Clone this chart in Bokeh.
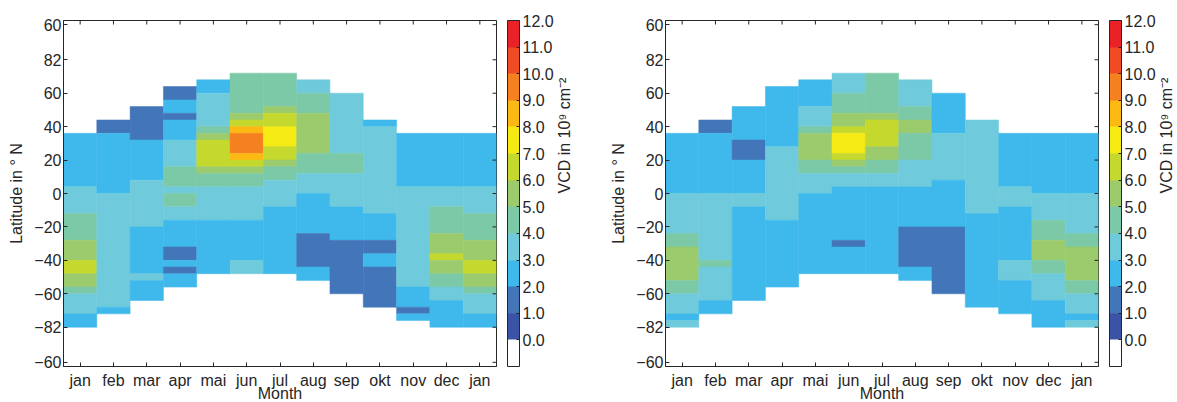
from bokeh.plotting import figure
from bokeh.models import (ColumnDataSource, LinearColorMapper, ColorBar, FixedTicker,
                          LinearAxis, Range1d, PrintfTickFormatter)
from bokeh.layouts import row
from bokeh.embed import file_html
from bokeh.resources import INLINE
import math

FONT = "Liberation Sans"
INK = "#262626"
FS = "16px"

# ---------------- data ----------------
months = ["jan", "feb", "mar", "apr", "mai", "jun", "jul", "aug", "sep", "okt", "nov", "dec", "jan"]
lat_ticks = [-101, -80, -60, -40, -20, 0, 20, 40, 60, 80, 101]
lat_tick_labels = ["\u221260", "\u221282", "\u221260", "\u221240", "\u221220", "0", "20", "40", "60", "82", "60"]
cbar_ticks = list(range(13))
cbar_colors = ["#ffffff", "#3a53a4", "#4375b9", "#3fb8eb", "#6fcbdc", "#7bc9a7",
               "#9bcb6d", "#c4d82e", "#f5ea14", "#fdb913", "#f58020", "#ef4b24", "#e92228"]

# per month: (lat top, lat bottom, VCD in 1e9 cm^-2)
left_jan = [(36, 4, 2.5), (4, -12, 3.5), (-12, -28, 4.5), (-28, -40, 5.5), (-40, -48, 6.5),
            (-48, -56, 5.5), (-56, -60, 4.5), (-60, -72, 3.5), (-72, -80, 2.5)]
left_columns = [
    left_jan,
    [(44, 36, 1.5), (36, 0, 2.5), (0, -68, 3.5), (-68, -72, 2.5)],
    [(52, 32, 1.5), (32, 8, 2.5), (8, -20, 3.5), (-20, -48, 2.5), (-48, -52, 3.5), (-52, -64, 2.5)],
    [(64, 56, 1.5), (56, 48, 2.5), (48, 44, 1.5), (44, 32, 2.5), (32, 16, 3.5), (16, 4, 4.5),
     (4, 0, 3.5), (0, -8, 4.5), (-8, -16, 3.5), (-16, -32, 2.5), (-32, -40, 1.5), (-40, -44, 2.5),
     (-44, -48, 1.5), (-48, -56, 2.5)],
    [(68, 60, 2.5), (60, 40, 3.5), (40, 36, 4.5), (36, 32, 5.5), (32, 16, 6.5), (16, 12, 5.5),
     (12, 4, 4.5), (4, -16, 3.5), (-16, -48, 2.5)],
    [(72, 48, 4.5), (48, 44, 5.5), (44, 40, 6.5), (40, 36, 8.5), (36, 24, 9.5), (24, 20, 8.5),
     (20, 16, 6.5), (16, 12, 5.5), (12, 4, 4.5), (4, -16, 3.5), (-16, -40, 2.5), (-40, -48, 3.5)],
    [(72, 52, 4.5), (52, 48, 5.5), (48, 40, 6.5), (40, 28, 7.5), (28, 20, 6.5), (20, 16, 5.5),
     (16, 8, 4.5), (8, -8, 3.5), (-8, -48, 2.5)],
    [(68, 60, 3.5), (60, 48, 4.5), (48, 24, 5.5), (24, 12, 4.5), (12, 0, 3.5), (0, -24, 2.5),
     (-24, -44, 1.5), (-44, -52, 2.5)],
    [(60, 24, 3.5), (24, 12, 4.5), (12, -8, 3.5), (-8, -28, 2.5), (-28, -60, 1.5)],
    [(44, 40, 2.5), (40, -12, 3.5), (-12, -28, 2.5), (-28, -36, 1.5), (-36, -44, 2.5), (-44, -68, 1.5)],
    [(36, 4, 2.5), (4, -56, 3.5), (-56, -68, 2.5), (-68, -72, 1.5), (-72, -76, 2.5)],
    [(36, 4, 2.5), (4, -8, 3.5), (-8, -24, 4.5), (-24, -36, 5.5), (-36, -40, 6.5), (-40, -48, 5.5),
     (-48, -56, 4.5), (-56, -64, 3.5), (-64, -80, 2.5)],
    left_jan,
]

right_jan = [(36, 0, 2.5), (0, -24, 3.5), (-24, -32, 4.5), (-32, -52, 5.5), (-52, -60, 4.5),
             (-60, -72, 3.5), (-72, -76, 2.5), (-76, -80, 3.5)]
right_columns = [
    right_jan,
    [(44, 36, 1.5), (36, 0, 2.5), (0, -40, 3.5), (-40, -44, 4.5), (-44, -64, 3.5), (-64, -72, 2.5)],
    [(52, 32, 2.5), (32, 20, 1.5), (20, 0, 2.5), (0, -8, 3.5), (-8, -64, 2.5)],
    [(64, 28, 2.5), (28, -16, 3.5), (-16, -56, 2.5)],
    [(68, 52, 2.5), (52, 40, 3.5), (40, 36, 4.5), (36, 20, 5.5), (20, 12, 4.5), (12, 0, 3.5),
     (0, -48, 2.5)],
    [(72, 60, 3.5), (60, 48, 4.5), (48, 40, 5.5), (40, 36, 6.5), (36, 24, 7.5), (24, 20, 6.5),
     (20, 16, 5.5), (16, 12, 4.5), (12, 4, 3.5), (4, -28, 2.5), (-28, -32, 1.5), (-32, -48, 2.5)],
    [(72, 48, 4.5), (48, 44, 5.5), (44, 28, 6.5), (28, 20, 5.5), (20, 12, 4.5), (12, 4, 3.5),
     (4, -48, 2.5)],
    [(68, 52, 3.5), (52, 44, 4.5), (44, 36, 5.5), (36, 20, 4.5), (20, 4, 3.5), (4, -20, 2.5),
     (-20, -44, 1.5), (-44, -52, 2.5)],
    [(60, 36, 2.5), (36, 8, 3.5), (8, -20, 2.5), (-20, -60, 1.5)],
    [(44, -12, 3.5), (-12, -68, 2.5)],
    [(36, 4, 2.5), (4, -8, 3.5), (-8, -40, 2.5), (-40, -52, 3.5), (-52, -72, 2.5)],
    [(36, 0, 2.5), (0, -16, 3.5), (-16, -28, 4.5), (-28, -40, 5.5), (-40, -48, 4.5), (-48, -64, 3.5),
     (-64, -80, 2.5)],
    right_jan,
]

# ---------------- build ----------------
FRAME_W, FRAME_H = 433, 346
X0, X1 = -0.5, 12.5
Y0, Y1 = -103.5, 103.5
TICK_PX = 4

mapper = LinearColorMapper(palette=cbar_colors, low=-1, high=12)


def column_source(columns):
    d = dict(left=[], right=[], top=[], bottom=[], vcd=[])
    for m, runs in enumerate(columns):
        for hi, lo, v in runs:
            d["left"].append(m - 0.5)
            d["right"].append(m + 0.5)
            d["top"].append(hi)
            d["bottom"].append(lo)
            d["vcd"].append(v)
    return ColumnDataSource(d)


def style_axis(ax, ticks, labels):
    ax.ticker = FixedTicker(ticks=ticks)
    ax.axis_line_color = INK
    ax.axis_line_width = 1
    ax.major_tick_line_color = INK
    ax.major_tick_line_width = 1
    ax.major_tick_in = TICK_PX
    ax.major_tick_out = 0
    ax.minor_tick_line_color = None
    ax.axis_label_text_font = FONT
    ax.axis_label_text_font_size = FS
    ax.axis_label_text_font_style = "normal"
    ax.axis_label_text_color = INK
    ax.major_label_overrides = {t: s for t, s in zip(ticks, labels)}
    ax.major_label_text_font = FONT
    ax.major_label_text_font_size = FS
    ax.major_label_text_color = INK


def make_panel(columns, border_left, border_right):
    p = figure(frame_width=FRAME_W, frame_height=FRAME_H,
               x_range=Range1d(X0, X1), y_range=Range1d(Y0, Y1),
               output_backend="svg", toolbar_location=None,
               min_border_left=border_left, min_border_right=border_right,
               min_border_top=20, min_border_bottom=36,
               x_axis_label="Month", y_axis_label="Latitude in \u00b0 N")
    p.quad(left="left", right="right", top="top", bottom="bottom", source=column_source(columns),
           fill_color={"field": "vcd", "transform": mapper},
           line_color={"field": "vcd", "transform": mapper}, line_width=0.5)
    p.xgrid.visible = False
    p.ygrid.visible = False
    p.outline_line_color = INK
    p.outline_line_width = 1
    p.outline_line_alpha = 1
    p.background_fill_color = "white"
    p.border_fill_color = "white"

    month_ticks = list(range(len(months)))
    style_axis(p.xaxis[0], month_ticks, months)
    p.xaxis[0].major_label_standoff = 5
    p.xaxis[0].axis_label_standoff = -7
    style_axis(p.yaxis[0], lat_ticks, lat_tick_labels)
    p.yaxis[0].major_label_standoff = 2
    p.yaxis[0].axis_label_standoff = 6

    # inward ticks on the top and right frame edges (box style), at the axis tick positions
    dy = TICK_PX * (Y1 - Y0) / FRAME_H
    dx = TICK_PX * (X1 - X0) / FRAME_W
    p.segment(x0=month_ticks, x1=month_ticks, y0=[Y1] * len(month_ticks),
              y1=[Y1 - dy] * len(month_ticks), line_color=INK, line_width=1)
    p.segment(x0=[X1] * len(lat_ticks), x1=[X1 - dx] * len(lat_ticks), y0=lat_ticks, y1=lat_ticks,
              line_color=INK, line_width=1)

    cb = ColorBar(color_mapper=mapper, ticker=FixedTicker(ticks=cbar_ticks),
                  formatter=PrintfTickFormatter(format="%.1f"),
                  width=12, height=FRAME_H, margin=0, padding=0, label_standoff=3,
                  location=(11, 0),
                  major_label_text_font=FONT, major_label_text_font_size=FS,
                  major_label_text_color=INK,
                  major_tick_line_color=INK, major_tick_in=3, major_tick_out=0,
                  minor_tick_line_color=None,
                  bar_line_color=INK, bar_line_width=1,
                  border_line_color=None, background_fill_color=None)
    p.add_layout(cb, "right")

    p.extra_y_ranges = {"cbt": Range1d(0, 1)}
    title_ax = LinearAxis(y_range_name="cbt", ticker=FixedTicker(ticks=[]))
    title_ax.axis_line_color = None
    title_ax.major_tick_line_color = None
    title_ax.minor_tick_line_color = None
    title_ax.axis_label = "VCD in 10\u2079 cm\u207b\u00b2"
    title_ax.axis_label_text_font = FONT
    title_ax.axis_label_text_font_size = FS
    title_ax.axis_label_text_font_style = "normal"
    title_ax.axis_label_text_color = INK
    title_ax.axis_label_standoff = 8
    try:
        title_ax.axis_label_orientation = math.pi / 2
    except Exception:
        pass
    p.add_layout(title_ax, "right")
    return p


p1 = make_panel(left_columns, 63, 104)
p2 = make_panel(right_columns, 65, 79)
layout = row(p1, p2)

open("out.html", "w").write(file_html(layout, INLINE))
